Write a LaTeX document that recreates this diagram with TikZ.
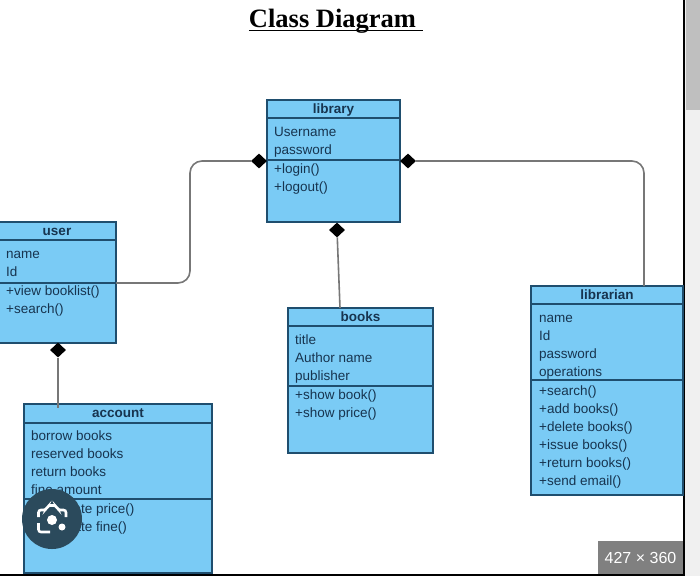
\documentclass[tikz,border=0pt]{standalone}
\usepackage{fontspec}
\setmainfont{Liberation Sans}
\newfontfamily\titlefont{Liberation Serif}
\usetikzlibrary{positioning, shapes.geometric}
\definecolor{skyfill}{HTML}{7ACBF5}
\definecolor{boxline}{HTML}{1F4E6E}
\definecolor{boxtext}{HTML}{17344F}
\definecolor{linkgrey}{HTML}{777777}
\definecolor{lensblue}{HTML}{2B4A5C}
\tikzset{
  headbox/.style={rectangle, draw=boxline, fill=skyfill, line width=1.1pt, outer sep=0pt, inner sep=0pt, minimum height=18pt, text height=11pt, text depth=3pt, text=boxtext, font=\fontsize{13.5}{18}\selectfont\bfseries},
  bodybox/.style={rectangle, draw=boxline, fill=skyfill, line width=1.1pt, outer sep=0pt},
  bodytext/.style={inner sep=0pt, align=left, text=boxtext, font=\fontsize{13.5}{18}\selectfont},
  joint/.style={diamond, fill=black, inner sep=0pt, minimum width=16pt, minimum height=15pt},
  link/.style={draw=linkgrey, line width=1.6pt, rounded corners=12pt}
}
\begin{document}
\begin{tikzpicture}[x=1pt, y=-1pt]
  \clip (0,0) rectangle (700,576);
  % Window edge
  \fill[white] (0,0) rectangle (700,576);
  \fill[black!6] (684,0) rectangle (700,576);
  \fill[black!25] (686,0) rectangle (700,110);
  \fill[black] (683,0) rectangle (684.5,576);
  \fill[black] (0,574) rectangle (684,576);

  % Title
  \node (title) at (332.5,21.5) {\titlefont\fontsize{26.5}{30}\selectfont\bfseries\rlap{\rule[-3.5pt]{174pt}{1.4pt}}Class Diagram\hspace{6pt}};

  % library
  \node (library) [headbox, minimum width=133pt] at (333.5,109) {library};
  \node (libraryattr) [bodybox, below=0pt of library, minimum width=133pt, minimum height=42pt] {};
  \node (libraryops) [bodybox, below=0pt of libraryattr, minimum width=133pt, minimum height=62pt] {};
  \node (libraryattrtext) [bodytext, below right=9pt and 7pt of library.south west] {Username\\password};
  \node (libraryoptext) [bodytext, below right=4pt and 7pt of libraryattr.south west] {+login()\\+logout()};

  % user
  \node (user) [headbox, minimum width=118pt] at (57,231) {user};
  \node (userattr) [bodybox, below=0pt of user, minimum width=118pt, minimum height=43pt] {};
  \node (userops) [bodybox, below=0pt of userattr, minimum width=118pt, minimum height=60pt] {};
  \node (userattrtext) [bodytext, below right=11pt and 8pt of user.south west] {name\\Id};
  \node (useroptext) [bodytext, below right=3pt and 8pt of userattr.south west] {+view booklist()\\+search()};

  % books
  \node (books) [headbox, minimum width=145pt] at (360.5,317) {books};
  \node (booksattr) [bodybox, below=0pt of books, minimum width=145pt, minimum height=60pt] {};
  \node (booksops) [bodybox, below=0pt of booksattr, minimum width=145pt, minimum height=67pt] {};
  \node (booksattrtext) [bodytext, below right=9pt and 7pt of books.south west] {title\\Author name\\publisher};
  \node (booksoptext) [bodytext, below right=4pt and 7pt of booksattr.south west] {+show book()\\+show price()};

  % librarian
  \node (librarian) [headbox, minimum width=152pt] at (607,295) {librarian};
  \node (librarianattr) [bodybox, below=0pt of librarian, minimum width=152pt, minimum height=76pt] {};
  \node (librarianops) [bodybox, below=0pt of librarianattr, minimum width=152pt, minimum height=115pt] {};
  \node (librarianattrtext) [bodytext, below right=11pt and 8pt of librarian.south west] {name\\Id\\password\\operations};
  \node (librarianoptext) [bodytext, below right=6pt and 8pt of librarianattr.south west] {+search()\\+add books()\\+delete books()\\+issue books()\\+return books()\\+send email()};

  % account
  \node (account) [headbox, minimum width=188pt, minimum height=19pt] at (118,413.5) {account};
  \node (accountattr) [bodybox, below=0pt of account, minimum width=188pt, minimum height=76pt] {};
  \node (accountops) [bodybox, below=0pt of accountattr, minimum width=188pt, minimum height=74pt] {};
  \node (accountattrtext) [bodytext, below right=8pt and 7pt of account.south west] {borrow books\\reserved books\\return books\\fine amount};
  \node (accountoptext) [bodytext, below right=5pt and 7pt of accountattr.south west] {+calculate price()\\+calculate fine()};

  % Joints
  \node (jointleft) [joint] at (259,161) {};
  \node (jointright) [joint] at (408,161) {};
  \node (jointbooks) [joint] at (337,230) {};
  \node (jointuser) [joint] at (58,350) {};
  \coordinate (booksend) at (340,308);
  \coordinate (librarianend) at (644,286);
  \coordinate (accountend) at (58,408);

  % Links
  \draw[link] (userattr.south east) -- (190,283) -- (190,161) -- (jointleft);
  \draw[link] (librarianend) -- (644,161) -- (jointright);
  \draw[link] (jointbooks) -- (booksend);
  \draw[link] (jointuser) -- (accountend);

  % Lens button
  \node (lens) [circle, fill=lensblue, minimum size=60pt, inner sep=0pt] at (52,519) {};
  \draw[white, line width=2.6pt, rounded corners=2.5pt] (38.5,517) -- (38.5,510) -- (46,510) -- (48,505.5) -- (56,505.5) -- (58,510) -- (66,510) -- (66,517);
  \draw[white, line width=2.6pt, rounded corners=2.5pt] (38.5,523) -- (38.5,532) -- (50,532);
  \fill[white] (52,520) circle (5pt);
  \fill[white] (62,527) circle (3.5pt);

  % Size badge
  \node (sizebadge) [rectangle, fill=black!50, text=white, minimum width=85pt, minimum height=33pt, inner sep=0pt, font=\fontsize{16}{18}\selectfont] at (640.5,557.5) {427 × 360};
\end{tikzpicture}
\end{document}
